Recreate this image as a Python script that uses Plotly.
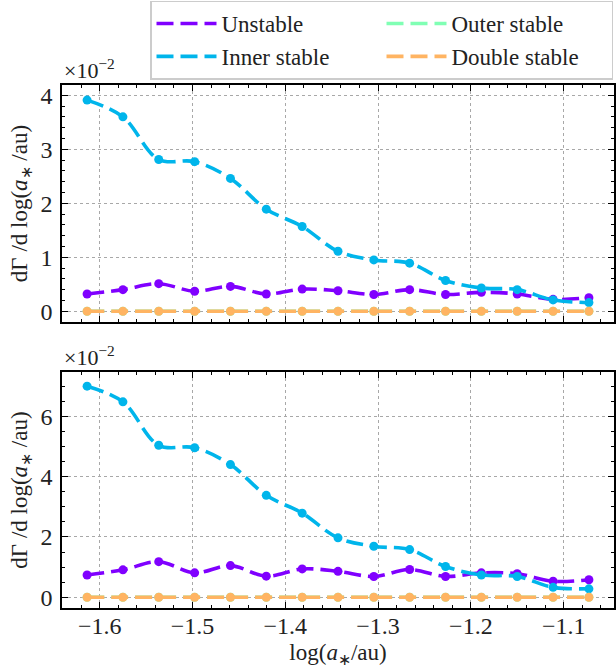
import numpy as np
import plotly.graph_objects as go
from plotly.subplots import make_subplots

# ---- data ----
log_a = [-1.6136, -1.5750, -1.5364, -1.4977, -1.4591, -1.4205, -1.3818, -1.3432,
         -1.3046, -1.2660, -1.2273, -1.1887, -1.1501, -1.1114, -1.0728]

top_unstable = [0.32, 0.40, 0.51, 0.37, 0.46, 0.32, 0.41, 0.38, 0.31, 0.40, 0.31, 0.35, 0.32, 0.22, 0.25]
top_inner = [3.91, 3.60, 2.81, 2.77, 2.46, 1.89, 1.57, 1.11, 0.95, 0.89, 0.57, 0.43, 0.40, 0.21, 0.16]
top_outer = [0.0] * 15
top_double = [0.0] * 15

bot_unstable = [0.74, 0.91, 1.18, 0.81, 1.05, 0.70, 0.94, 0.86, 0.69, 0.92, 0.69, 0.81, 0.78, 0.53, 0.58]
bot_inner = [7.00, 6.48, 5.04, 4.96, 4.40, 3.38, 2.79, 1.97, 1.69, 1.58, 1.02, 0.74, 0.69, 0.33, 0.28]
bot_outer = [0.0] * 15
bot_double = [0.0] * 15

names = ["Unstable", "Inner stable", "Outer stable", "Double stable"]
colors = ["#8000ff", "#00b5eb", "#80ffb4", "#ffb462"]
legend_rank = [1, 3, 2, 4]  # fills rows: Unstable, Outer / Inner, Double

FONT = "Liberation Serif, Times New Roman, serif"
TXT = "#222222"

fig = make_subplots(rows=2, cols=1, shared_xaxes=False)

panels = [(1, [top_unstable, top_inner, top_outer, top_double]),
          (2, [bot_unstable, bot_inner, bot_outer, bot_double])]

for row, series in panels:
    for i, (nm, col, vals) in enumerate(zip(names, colors, series)):
        fig.add_trace(go.Scatter(
            x=log_a, y=vals, mode="lines", name=nm,
            line=dict(color=col, width=3.6, dash="17px,7px", shape="spline", smoothing=1.0),
            showlegend=(row == 1), legendrank=legend_rank[i], hoverinfo="skip"),
            row=row, col=1)
        fig.add_trace(go.Scatter(
            x=log_a, y=vals, mode="markers", name=nm,
            marker=dict(color=col, size=9, symbol="circle"),
            showlegend=False), row=row, col=1)

span = log_a[-1] - log_a[0]
xr = [log_a[0] - 0.05 * span, log_a[-1] + 0.05 * span]

common_axis = dict(
    showline=True, linecolor="black", linewidth=1.6, mirror="allticks",
    ticks="inside", ticklen=6, tickwidth=1.2, tickcolor="black",
    showgrid=True, gridcolor="#a8a8a8", gridwidth=0.7, griddash="dot",
    zeroline=False, automargin=False,
    tickfont=dict(family=FONT, size=24, color=TXT),
)

fig.update_xaxes(**common_axis, range=xr, dtick=0.1, tick0=0, tickformat=".1f",
                 ticklabelstandoff=-5,
                 minor=dict(ticks="inside", ticklen=3, tickwidth=1, dtick=0.02, tick0=0,
                            tickcolor="black", showgrid=False))
fig.update_xaxes(showticklabels=False, row=1, col=1)
fig.update_xaxes(title=dict(text="log(<i>a</i><sub>∗</sub>/au)", font=dict(family=FONT, size=23, color=TXT),
                            standoff=6), row=2, col=1)

ytitle = "dΓ /d log(<i>a</i><sub>∗</sub> /au)"
fig.update_yaxes(**common_axis, ticklabelstandoff=3)
fig.update_yaxes(range=[-0.2, 4.19], dtick=1, tick0=0,
                 minor=dict(ticks="inside", ticklen=3, tickwidth=1, dtick=0.2, tick0=0,
                            tickcolor="black", showgrid=False),
                 title=dict(text=ytitle, font=dict(family=FONT, size=23, color=TXT), standoff=6),
                 domain=[0.5468, 1.0], row=1, col=1)
fig.update_yaxes(range=[-0.356, 7.47], dtick=2, tick0=0,
                 minor=dict(ticks="inside", ticklen=3, tickwidth=1, dtick=0.5, tick0=0,
                            tickcolor="black", showgrid=False),
                 title=dict(text=ytitle, font=dict(family=FONT, size=23, color=TXT), standoff=6),
                 domain=[0.0, 0.4512], row=2, col=1)

# exponent labels
for yref in ["y domain", "y2 domain"]:
    fig.add_annotation(text="×10<sup>−2</sup>", xref="x domain", yref=yref, x=0.0, y=1.0,
                       xanchor="left", yanchor="bottom", showarrow=False, yshift=0,
                       font=dict(family=FONT, size=22, color=TXT))

W, H = 616, 668
ml, mr, mt, mb = 62, 2, 85, 60
pw = W - ml - mr
ph = H - mt - mb
fig.update_layout(
    width=W, height=H,
    margin=dict(l=ml, r=mr, t=mt, b=mb, autoexpand=False),
    plot_bgcolor="white", paper_bgcolor="white",
    font=dict(family=FONT, size=22, color=TXT),
    legend=dict(orientation="h", x=(150 - ml) / pw, xanchor="left",
                y=1 + (mt - 0.5) / ph, yanchor="top",
                entrywidth=155, entrywidthmode="pixels",
                bgcolor="white", bordercolor="#cccccc", borderwidth=1.5,
                font=dict(family=FONT, size=23, color=TXT),
                itemwidth=60, tracegroupgap=0),
)

fig.write_html("out.html", config={"displayModeBar": False},
               post_script="document.body.style.margin='0';")
